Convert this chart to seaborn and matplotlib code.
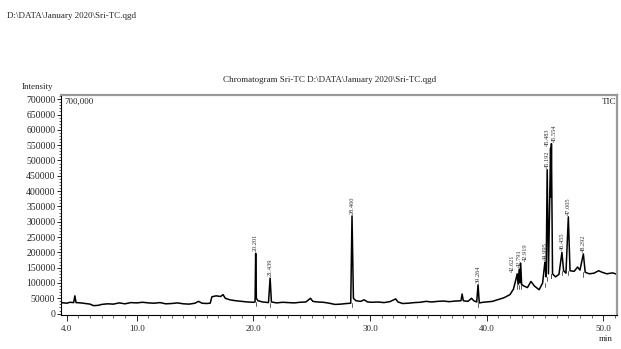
import numpy as np
import pandas as pd
import matplotlib
matplotlib.use("Agg")
import matplotlib.pyplot as plt
from matplotlib.ticker import MultipleLocator, FixedLocator
import seaborn as sns

# ---- data ----
times = [3.5, 4.0, 4.3, 4.6, 4.7, 4.8, 5.2, 5.6, 6.0, 6.3, 6.7, 7.0, 7.5, 8.0, 8.5, 9.0,
         9.5, 10.0, 10.5, 11.0, 11.5, 12.0, 12.5, 13.0, 13.5, 14.0, 14.5, 15.0, 15.3,
         15.6, 16.0, 16.3, 16.45, 16.8, 17.2, 17.4, 17.6, 18.0, 18.5, 19.0, 19.5, 20.0,
         20.15, 20.201, 20.26, 20.4, 20.8, 21.3, 21.439, 21.55, 22.0, 22.5, 23.0, 23.5,
         24.0, 24.5, 24.9, 25.1, 25.5, 26.0, 26.5, 27.0, 27.5, 28.0, 28.35, 28.46, 28.58,
         28.8, 29.2, 29.5, 29.8, 30.2, 30.7, 31.2, 31.7, 32.2, 32.4, 32.8, 33.3, 33.8,
         34.3, 34.8, 35.3, 35.8, 36.3, 36.8, 37.3, 37.8, 37.9, 38.0, 38.4, 38.7, 38.9,
         39.15, 39.264, 39.37, 39.7, 40.0, 40.5, 41.0, 41.5, 42.0, 42.3, 42.5, 42.621,
         42.7, 42.791, 42.85, 42.919, 43.0, 43.2, 43.5, 43.8, 44.1, 44.5, 44.8, 44.995,
         45.1, 45.192, 45.3, 45.483, 45.52, 45.554, 45.65, 45.9, 46.2, 46.455, 46.6,
         46.8, 47.005, 47.15, 47.5, 47.8, 48.0, 48.292, 48.45, 48.8, 49.2, 49.6, 49.9,
         50.3, 50.8, 51.2]
intensity = [36000, 34000, 37000, 36000, 58000, 36000, 35000, 33000, 31000, 26000, 27000,
             30000, 32000, 31000, 35000, 32000, 36000, 35000, 37000, 35000, 34000, 36000,
             32000, 33000, 35000, 32000, 31000, 34000, 40000, 34000, 33000, 34000, 55000,
             58000, 56000, 62000, 50000, 45000, 42000, 40000, 38000, 37000, 38000, 197000,
             50000, 42000, 38000, 36000, 116000, 38000, 35000, 37000, 36000, 35000, 37000,
             38000, 50000, 40000, 38000, 37000, 34000, 30000, 31000, 33000, 34000, 319000,
             50000, 42000, 40000, 45000, 38000, 37000, 38000, 36000, 39000, 48000, 38000,
             33000, 34000, 36000, 37000, 40000, 38000, 40000, 41000, 39000, 41000, 42000,
             64000, 42000, 40000, 50000, 42000, 38000, 94000, 35000, 37000, 38000, 40000,
             46000, 52000, 62000, 80000, 110000, 130000, 95000, 145000, 100000, 165000,
             95000, 90000, 85000, 105000, 90000, 78000, 100000, 168000, 120000, 470000,
             130000, 540000, 380000, 555000, 130000, 120000, 128000, 200000, 140000, 132000,
             316000, 140000, 138000, 152000, 142000, 195000, 135000, 130000, 132000, 140000,
             135000, 130000, 133000, 128000]

peak_times = [20.201, 21.439, 28.460, 39.264, 42.621, 42.791, 42.919, 44.995, 45.192,
              45.483, 45.554, 46.455, 47.005, 48.292]
peak_labels = ["20.201", "21.439", "28.460", "39.264", "42.621", "42.791", "42.919",
               "44.995", "45.192", "45.483", "45.554", "46.455", "47.005", "48.292"]

y_ticks = list(range(0, 700001, 50000))
x_ticks = [4.0, 10.0, 20.0, 30.0, 40.0, 50.0]
x_tick_labels = ["4.0", "10.0", "20.0", "30.0", "40.0", "50.0"]

df = pd.DataFrame({"time": times, "intensity": intensity})

sns.set_style("ticks")
plt.rcParams["font.family"] = ["Liberation Serif", "DejaVu Serif"]

fig = plt.figure(figsize=(6.21, 3.49), dpi=100)
ax = fig.add_axes([0.098, 0.097, 0.896, 0.631])

sns.lineplot(data=df, x="time", y="intensity", ax=ax, color="black", linewidth=1.1,
             sort=False, estimator=None)

ax.set_xlim(3.5, 51.2)
ax.set_ylim(-5000, 714000)

# small horizontal nudges (points) so neighbouring labels stay readable
label_nudge = {"42.621": -3.5, "42.791": 0.0, "42.919": 3.5,
               "45.483": -2.2, "45.554": 2.2}

t_arr = np.array(times)
i_arr = np.array(intensity)
for pt, lab in zip(peak_times, peak_labels):
    idx = int(np.argmin(np.abs(t_arr - pt)))
    top = i_arr[idx]
    ax.annotate(lab, xy=(pt, top), xytext=(label_nudge.get(lab, 0.0), 1.5),
                textcoords="offset points", rotation=90, ha="center", va="bottom",
                fontsize=4.6, color="#333333")
    near = (np.abs(t_arr - pt) < 0.2)
    base = i_arr[near].min()
    ax.plot([pt, pt], [base - 14000, base], color="#444444", linewidth=0.6)

ax.yaxis.set_major_locator(FixedLocator(y_ticks))
ax.set_yticklabels([str(v) for v in y_ticks])
ax.yaxis.set_minor_locator(MultipleLocator(10000))
ax.xaxis.set_major_locator(FixedLocator(x_ticks))
ax.set_xticklabels(x_tick_labels)
ax.xaxis.set_minor_locator(MultipleLocator(1.0))

ax.tick_params(axis="y", which="major", labelsize=7, length=3, width=0.7, pad=1)
ax.tick_params(axis="y", which="minor", length=1.5, width=0.5)
ax.tick_params(axis="x", which="major", labelsize=6.5, length=4, width=0.7, pad=3)
ax.tick_params(axis="x", which="minor", length=2, width=0.5)

ax.set_xlabel("")
ax.set_ylabel("")

for s in ["left", "bottom"]:
    ax.spines[s].set_color("black")
    ax.spines[s].set_linewidth(0.8)
for s in ["top", "right"]:
    ax.spines[s].set_color("#9a9a9a")
    ax.spines[s].set_linewidth(1.6)

ax.text(0.006, 0.985, "700,000", transform=ax.transAxes, ha="left", va="top", fontsize=6.5)
ax.text(0.998, 0.985, "TIC", transform=ax.transAxes, ha="right", va="top", fontsize=6.5)
fig.text(0.975, 0.028, "min", ha="center", va="center", fontsize=6.5)
fig.text(0.06, 0.738, "Intensity", ha="center", va="bottom", fontsize=6.5)
fig.text(0.53, 0.77, "Chromatogram Sri-TC D:\\DATA\\January 2020\\Sri-TC.qgd",
         ha="center", va="center", fontsize=6.5)
fig.text(0.012, 0.953, "D:\\DATA\\January 2020\\Sri-TC.qgd", ha="left", va="center",
         fontsize=6.5)

fig.savefig("out.png", dpi=100)
